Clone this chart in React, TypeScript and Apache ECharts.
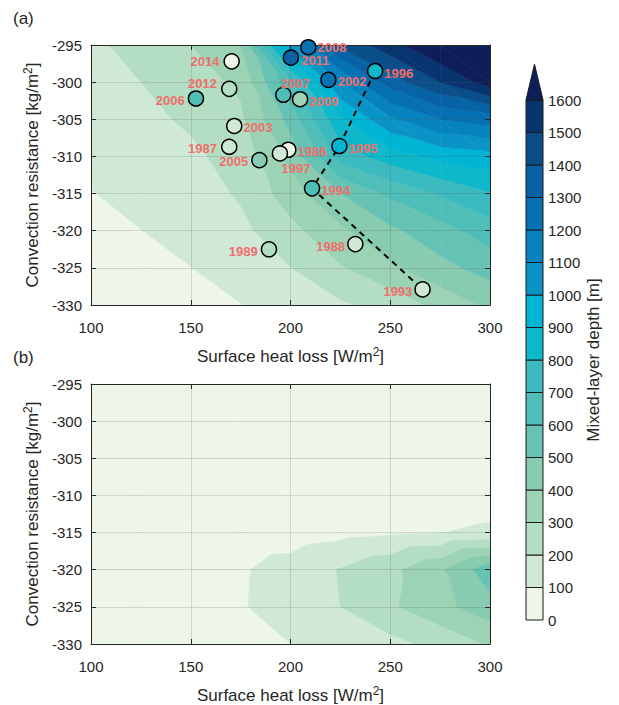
import React, { useEffect, useRef } from "react";
import * as echarts from "echarts";

// ---------- data ----------
const heatLossGrid = [100, 125, 150, 175, 200, 225, 250, 275, 300];
const resistanceGrid = [-295, -300, -305, -310, -315, -320, -325, -330];

// panel (a): mixed-layer depth [m]; one row per resistanceGrid value
const mldA = [
  [180, 235, 300, 400, 1050, 1420, 1560, 1700, 1800],
  [165, 200, 255, 320, 680, 1100, 1350, 1500, 1650],
  [145, 175, 215, 280, 540, 880, 1080, 1200, 1250],
  [125, 150, 180, 240, 430, 740, 850, 930, 960],
  [97, 125, 150, 212, 350, 500, 620, 710, 790],
  [70, 99, 125, 175, 270, 380, 480, 560, 650],
  [50, 72, 99, 135, 198, 290, 380, 470, 540],
  [35, 52, 75, 98, 150, 185, 235, 330, 420],
];

// panel (b): mixed-layer depth [m]
const mldB = [
  [6, 8, 10, 12, 15, 20, 25, 30, 40],
  [7, 9, 11, 14, 18, 22, 28, 35, 50],
  [8, 10, 12, 16, 20, 25, 32, 40, 55],
  [10, 12, 15, 20, 25, 30, 40, 50, 60],
  [14, 18, 25, 40, 50, 70, 85, 98, 115],
  [20, 30, 50, 90, 140, 205, 275, 385, 560],
  [20, 30, 50, 92, 145, 200, 285, 370, 460],
  [18, 25, 40, 60, 100, 170, 170, 230, 310],
];

const years = [2008, 2011, 2014, 1996, 2002, 2012, 2006, 2007, 2009, 2003, 1987, 1986, 1997, 2005, 1995, 1994, 1989, 1988, 1993];
const yearHeatLoss = [208.9, 200.2, 170.5, 242.4, 219, 169.3, 152.6, 196.4, 204.8, 171.8, 169.3, 198.9, 194.7, 184.4, 224.5, 210.8, 189.2, 232.5, 266.2];
const yearResistance = [-295.3, -296.7, -297.2, -298.5, -299.7, -300.9, -302.2, -301.7, -302.3, -305.9, -308.7, -309.1, -309.6, -310.5, -308.6, -314.3, -322.5, -321.8, -327.9];
const yearMld = [1250, 1350, 50, 850, 1250, 250, 650, 620, 350, 180, 150, 50, 150, 450, 900, 600, 240, 150, 150];
const pathYears = [1996, 1995, 1994, 1993];

const levels = [0, 100, 200, 300, 400, 500, 600, 700, 800, 900, 1000, 1100, 1200, 1300, 1400, 1500, 1600];

// ---------- styles ----------
const bandColors = [
  "#eef5e9", "#d0e9d7", "#b4dec3", "#9bd3b4", "#87cbb0", "#66c3b4", "#4fbdb8", "#3bbac0",
  "#0cb8c9", "#00b4d3", "#0a93c6", "#0683bf", "#0571b3", "#0763a5", "#0a4f89", "#08346f", "#0d1e5b",
];

const labelPlacement: Record<number, { position: string; offset: number[] }> = {
  2008: { position: "right", offset: [-4, 0] },
  2011: { position: "right", offset: [-3, 3] },
  2014: { position: "left", offset: [1, 0] },
  1996: { position: "right", offset: [-4, 2] },
  2002: { position: "right", offset: [-4, 2] },
  2012: { position: "left", offset: [1, -5] },
  2006: { position: "left", offset: [2, 2] },
  2007: { position: "top", offset: [12, 8] },
  2009: { position: "right", offset: [-4, 2] },
  2003: { position: "right", offset: [-4, 2] },
  1987: { position: "left", offset: [1, 2] },
  1986: { position: "right", offset: [-4, 2] },
  1997: { position: "bottom", offset: [16, -5] },
  2005: { position: "left", offset: [2, 1] },
  1995: { position: "right", offset: [-4, 2] },
  1994: { position: "right", offset: [-4, 2] },
  1989: { position: "left", offset: [2, 2] },
  1988: { position: "left", offset: [3, 2] },
  1993: { position: "left", offset: [3, 2] },
};

const AXIS_COLOR = "#262626";
const GRID_LINE = "rgba(38,38,38,0.15)";
const FONT = 'Arial, "Liberation Sans", Helvetica, sans-serif';
const TICK_FONT = 15;
const NAME_FONT = 17;
const SUP_STYLE = { fontSize: 12, fontFamily: FONT, color: AXIS_COLOR, verticalAlign: "top", padding: [0, 0, 9, 0] };

function colorFor(v: number) {
  let k = 0;
  for (let i = 1; i < levels.length; i++) if (v >= levels[i]) k = i;
  return bandColors[k];
}

type P = number[];
function interp(a: P, b: P, t: number): P {
  const s = (t - a[2]) / (b[2] - a[2]);
  return [a[0] + s * (b[0] - a[0]), a[1] + s * (b[1] - a[1]), t];
}
function clipPoly(pts: P[], t: number, above: boolean): P[] {
  const out: P[] = [];
  const n = pts.length;
  for (let k = 0; k < n; k++) {
    const cur = pts[k];
    const prev = pts[(k + n - 1) % n];
    const cIn = above ? cur[2] >= t : cur[2] < t;
    const pIn = above ? prev[2] >= t : prev[2] < t;
    if (cIn) {
      if (!pIn) out.push(interp(prev, cur, t));
      out.push(cur);
    } else if (pIn) out.push(interp(prev, cur, t));
  }
  return out;
}

function contourSeries(field: number[][], axisIndex: number) {
  const cells: number[][] = [];
  for (let j = 0; j < resistanceGrid.length - 1; j++)
    for (let i = 0; i < heatLossGrid.length - 1; i++)
      cells.push([
        (heatLossGrid[i] + heatLossGrid[i + 1]) / 2,
        (resistanceGrid[j] + resistanceGrid[j + 1]) / 2,
        i,
        j,
      ]);
  return {
    type: "custom",
    xAxisIndex: axisIndex,
    yAxisIndex: axisIndex,
    z: 1,
    silent: true,
    clip: true,
    data: cells,
    encode: { x: 0, y: 1 },
    renderItem: (_params: any, api: any) => {
      const i = api.value(2);
      const j = api.value(3);
      const p00 = [heatLossGrid[i], resistanceGrid[j], field[j][i]];
      const p10 = [heatLossGrid[i + 1], resistanceGrid[j], field[j][i + 1]];
      const p01 = [heatLossGrid[i], resistanceGrid[j + 1], field[j + 1][i]];
      const p11 = [heatLossGrid[i + 1], resistanceGrid[j + 1], field[j + 1][i + 1]];
      const tris = [
        [p00, p10, p11],
        [p00, p11, p01],
      ];
      const children: any[] = [];
      for (const tri of tris) {
        for (let k = 0; k < bandColors.length; k++) {
          let poly: P[] = tri;
          if (k > 0) poly = clipPoly(poly, levels[k], true);
          if (poly.length < 3) continue;
          if (k < bandColors.length - 1) poly = clipPoly(poly, levels[k + 1], false);
          if (poly.length < 3) continue;
          children.push({
            type: "polygon",
            shape: { points: poly.map((p) => api.coord([p[0], p[1]])) },
            style: { fill: bandColors[k], stroke: bandColors[k], lineWidth: 0.6 },
          });
        }
      }
      return { type: "group", children };
    },
  };
}

function xAxesFor(gridIndex: number) {
  const common = {
    type: "value",
    gridIndex,
    min: 100,
    max: 300,
    interval: 50,
    z: 3,
    axisLine: { show: true, onZero: false, lineStyle: { color: AXIS_COLOR, width: 1 } },
    axisTick: { show: true, inside: true, length: 5, lineStyle: { color: AXIS_COLOR } },
  };
  return [
    {
      ...common,
      position: "bottom",
      axisLabel: { color: AXIS_COLOR, fontSize: TICK_FONT, fontFamily: FONT, margin: 15 },
      splitLine: { show: true, lineStyle: { color: GRID_LINE, width: 1 } },
      name: "Surface heat loss [W/m{sup|2}]",
      nameLocation: "middle",
      nameGap: 41,
      nameTextStyle: { color: AXIS_COLOR, fontSize: NAME_FONT, fontFamily: FONT, rich: { sup: SUP_STYLE } },
    },
    { ...common, position: "top", axisLabel: { show: false }, splitLine: { show: false } },
  ];
}
function yAxesFor(gridIndex: number) {
  const common = {
    type: "value",
    gridIndex,
    min: -330,
    max: -295,
    interval: 5,
    z: 3,
    axisLine: { show: true, onZero: false, lineStyle: { color: AXIS_COLOR, width: 1 } },
    axisTick: { show: true, inside: true, length: 5, lineStyle: { color: AXIS_COLOR } },
  };
  return [
    {
      ...common,
      position: "left",
      axisLabel: { color: AXIS_COLOR, fontSize: TICK_FONT, fontFamily: FONT, margin: 9 },
      splitLine: { show: true, lineStyle: { color: GRID_LINE, width: 1 } },
      name: "Convection resistance [kg/m{sup|2}]",
      nameLocation: "middle",
      nameGap: 42,
      nameTextStyle: { color: AXIS_COLOR, fontSize: NAME_FONT, fontFamily: FONT, rich: { sup: SUP_STYLE } },
    },
    { ...common, position: "right", axisLabel: { show: false }, splitLine: { show: false } },
  ];
}

function buildOption() {
  const scatterData = years.map((yr, i) => ({
    value: [yearHeatLoss[i], yearResistance[i], yearMld[i], yr],
    label: { position: labelPlacement[yr].position, offset: labelPlacement[yr].offset },
  }));
  const pathData = pathYears.map((yr) => {
    const i = years.indexOf(yr);
    return [yearHeatLoss[i], yearResistance[i]];
  });
  const cbData = levels.map((lo, k) => [0.5, lo, k]);

  return {
    animation: false,
    backgroundColor: "#ffffff",
    textStyle: { fontFamily: FONT },
    grid: [
      { left: 91, top: 45, width: 399, height: 260 },
      { left: 91, top: 384, width: 399, height: 260 },
      { left: 526, top: 100, width: 17, height: 520 },
    ],
    xAxis: [
      xAxesFor(0)[0], xAxesFor(0)[1],
      xAxesFor(1)[0], xAxesFor(1)[1],
      { type: "value", gridIndex: 2, min: 0, max: 1, show: false },
    ],
    yAxis: [
      yAxesFor(0)[0], yAxesFor(0)[1],
      yAxesFor(1)[0], yAxesFor(1)[1],
      {
        type: "value",
        gridIndex: 2,
        min: 0,
        max: 1600,
        interval: 100,
        position: "right",
        axisLine: { show: false },
        axisTick: { show: false },
        splitLine: { show: false },
        axisLabel: {
          color: AXIS_COLOR,
          fontSize: TICK_FONT,
          fontFamily: FONT,
          margin: 5,
          formatter: (v: number) => String(v),
        },
        name: "Mixed-layer depth [m]",
        nameLocation: "middle",
        nameRotate: 90,
        nameGap: 38,
        nameTextStyle: { color: AXIS_COLOR, fontSize: NAME_FONT, fontFamily: FONT },
      },
    ],
    series: [
      contourSeries(mldA, 0),
      { ...contourSeries(mldB, 2), xAxisIndex: 2, yAxisIndex: 2 },
      {
        type: "line",
        xAxisIndex: 0,
        yAxisIndex: 0,
        z: 4,
        data: pathData,
        symbol: "none",
        silent: true,
        lineStyle: { color: "#000", width: 2, type: [6, 5] },
      },
      {
        type: "scatter",
        xAxisIndex: 0,
        yAxisIndex: 0,
        z: 5,
        symbol: "circle",
        symbolSize: 15,
        data: scatterData,
        itemStyle: {
          color: (p: any) => colorFor(p.value[2]),
          borderColor: "#000",
          borderWidth: 1.5,
          opacity: 1,
        },
        label: {
          show: true,
          formatter: (p: any) => String(p.value[3]),
          color: "#ef6f6c",
          fontSize: 13,
          fontWeight: "bold",
          fontFamily: FONT,
        },
      },
      {
        type: "custom",
        xAxisIndex: 4,
        yAxisIndex: 4,
        clip: false,
        silent: true,
        data: cbData,
        encode: { x: 0, y: 1 },
        renderItem: (_p: any, api: any) => {
          const k = api.value(2);
          if (k < levels.length - 1) {
            const a = api.coord([0, levels[k]]);
            const b = api.coord([1, levels[k + 1]]);
            return {
              type: "rect",
              shape: { x: a[0], y: b[1], width: b[0] - a[0], height: a[1] - b[1] },
              style: { fill: bandColors[k], stroke: "#1a1a1a", lineWidth: 1 },
            };
          }
          const top = levels[k];
          return {
            type: "polygon",
            shape: {
              points: [api.coord([0, top]), api.coord([1, top]), api.coord([0.5, top + 110])],
            },
            style: { fill: bandColors[k], stroke: "#1a1a1a", lineWidth: 1 },
          };
        },
      },
    ],
    graphic: [
      { type: "text", left: 13, top: 10, style: { text: "(a)", fontSize: NAME_FONT, fontFamily: FONT, fill: AXIS_COLOR } },
      { type: "text", left: 13, top: 349, style: { text: "(b)", fontSize: NAME_FONT, fontFamily: FONT, fill: AXIS_COLOR } },
    ],
  };
}

export default function App() {
  const ref = useRef<HTMLDivElement>(null);
  useEffect(() => {
    const chart = echarts.init(ref.current!, null, { renderer: "svg" });
    chart.setOption(buildOption() as any);
    return () => chart.dispose();
  }, []);
  return (
    <div
      ref={ref}
      style={{ position: "absolute", left: 0, top: 0, width: 619, height: 705, background: "#fff" }}
    />
  );
}
